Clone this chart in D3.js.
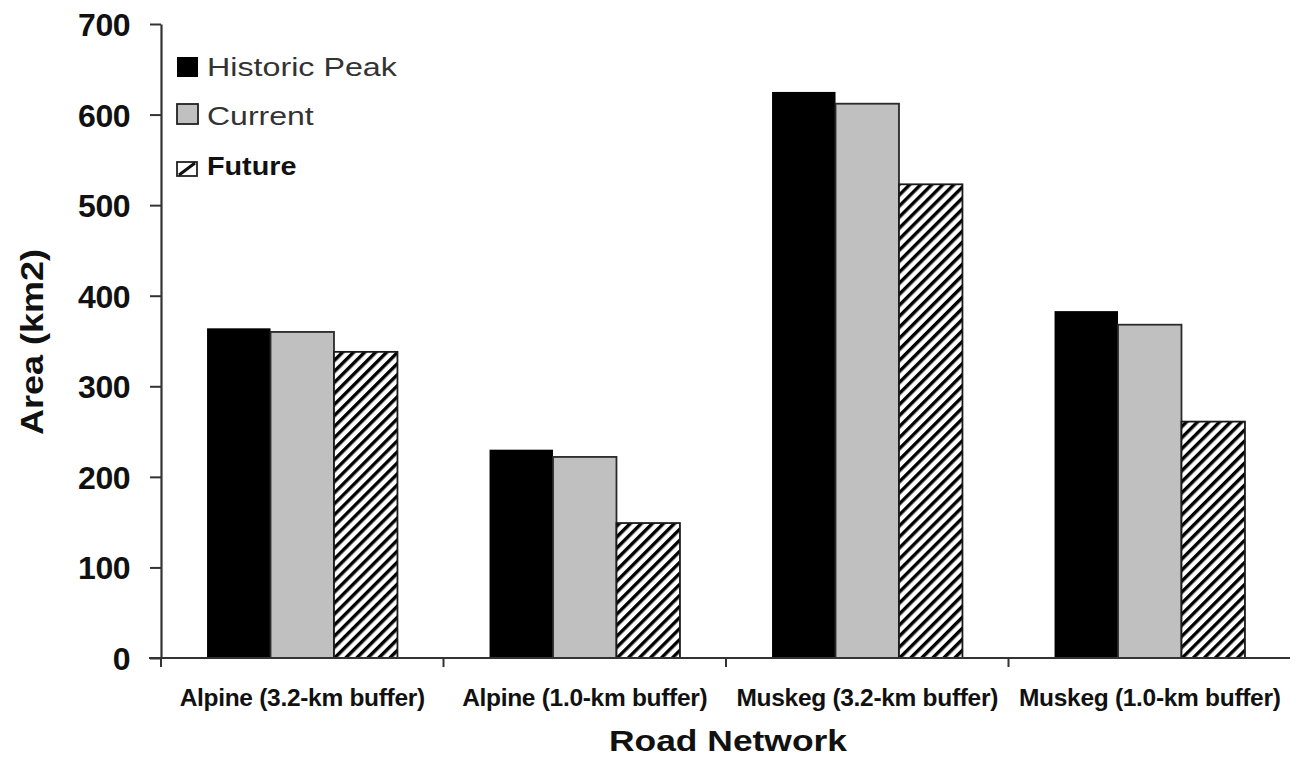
<!DOCTYPE html>
<html>
<head>
<meta charset="utf-8">
<script src="https://cdn.jsdelivr.net/npm/d3@7"></script>
<style>
  html, body { margin: 0; padding: 0; background: #fff; }
  svg { display: block; font-family: "Liberation Sans", Arial, sans-serif; }
</style>
</head>
<body>
<svg id="chart" width="1296" height="757"></svg>
<script>
// ---- data ----
const categories = ["Alpine (3.2-km buffer)", "Alpine (1.0-km buffer)", "Muskeg (3.2-km buffer)", "Muskeg (1.0-km buffer)"];
const seriesNames = ["Historic Peak", "Current", "Future"];
const historicPeak = [364, 230, 625, 383];
const current = [360, 222, 612, 368];
const future = [338, 149, 523, 261];
const yTicks = [0, 100, 200, 300, 400, 500, 600, 700];
const xTitle = "Road Network";
const yTitle = "Area (km2)";

const seriesValues = [historicPeak, current, future];

(function draw() {
const svg = d3.select("#chart");
const defs = svg.append("defs");
defs.append("pattern")
  .attr("id", "hatch")
  .attr("patternUnits", "userSpaceOnUse")
  .attr("width", 7.8).attr("height", 10)
  .attr("patternTransform", "rotate(45)")
  .call(p => {
    p.append("rect").attr("width", 7.8).attr("height", 10).attr("fill", "#fff");
    p.append("rect").attr("width", 3.4).attr("height", 10).attr("fill", "#000");
  });

const fills = ["#000000", "#c0c0c0", "url(#hatch)"];
const strokes = ["#000000", "#2a2a2a", "#1a1a1a"];

const pLeft = 161, pRight = 1291, pTop = 24, pBottom = 658;

const x0 = d3.scaleBand().domain(categories).range([pLeft, pRight])
  .paddingInner(0.326).paddingOuter(0.163);
const x1 = d3.scaleBand().domain(seriesNames).range([0, x0.bandwidth()]).padding(0);
const y = d3.scaleLinear().domain([0, 700]).range([pBottom, pTop]);

// bars
const groups = svg.append("g").selectAll("g")
  .data(categories).join("g")
  .attr("transform", d => `translate(${x0(d)},0)`);

groups.selectAll("rect")
  .data((c, ci) => seriesNames.map((s, si) => ({ s, si, v: seriesValues[si][ci] })))
  .join("rect")
  .attr("x", d => x1(d.s))
  .attr("width", x1.bandwidth())
  .attr("y", d => y(d.v))
  .attr("height", d => y(0) - y(d.v))
  .attr("fill", d => fills[d.si])
  .attr("stroke", d => strokes[d.si])
  .attr("stroke-width", d => d.si === 0 ? 0 : 1.8);

// y axis
const yAxis = svg.append("g")
  .attr("transform", `translate(${pLeft},0)`)
  .call(d3.axisLeft(y).tickValues(yTicks).tickFormat(d3.format("d")).tickSize(11).tickSizeOuter(0).tickPadding(20));
yAxis.select(".domain").attr("stroke", "#333").attr("stroke-width", 2.2);
yAxis.selectAll(".tick line").attr("stroke", "#333").attr("stroke-width", 2);
yAxis.selectAll(".tick text")
  .attr("font-size", 32).attr("font-weight", "bold").attr("fill", "#111")
  .attr("font-family", "Liberation Sans, Arial, sans-serif")
  .attr("letter-spacing", -0.5)
  .attr("dy", "0.36em");

// x axis line + category boundary ticks
const step = x0.step();
const xAxis = svg.append("g");
xAxis.append("line")
  .attr("x1", pLeft - 12).attr("x2", pRight - 1)
  .attr("y1", pBottom).attr("y2", pBottom)
  .attr("stroke", "#333").attr("stroke-width", 2.2);
xAxis.selectAll("line.bt")
  .data(d3.range(categories.length))
  .join("line").attr("class", "bt")
  .attr("x1", i => pLeft + i * step).attr("x2", i => pLeft + i * step)
  .attr("y1", pBottom).attr("y2", pBottom + 9)
  .attr("stroke", "#333").attr("stroke-width", 2);

// stretch helper (the picture's text is horizontally scaled)
function stretch(sel, factor) {
  sel.each(function () {
    const w = this.getComputedTextLength();
    d3.select(this).attr("textLength", w * factor).attr("lengthAdjust", "spacingAndGlyphs");
  });
}

// x category labels
svg.append("g").selectAll("text")
  .data(categories).join("text")
  .attr("x", d => x0(d) + x0.bandwidth() / 2)
  .attr("y", 706)
  .attr("text-anchor", "middle")
  .attr("font-size", 24.5).attr("font-weight", "bold").attr("fill", "#111")
  .attr("letter-spacing", -0.3)
  .text(d => d);

// x title
svg.append("text")
  .attr("x", (pLeft + pRight) / 2 + 2).attr("y", 751)
  .attr("text-anchor", "middle")
  .attr("font-size", 30).attr("font-weight", "bold").attr("fill", "#111")
  .text(xTitle)
  .call(stretch, 1.18);

// y title
svg.append("text")
  .attr("transform", "translate(43,342) rotate(-90)")
  .attr("text-anchor", "middle")
  .attr("font-size", 31).attr("font-weight", "bold").attr("fill", "#111")
  .text(yTitle)
  .call(stretch, 1.16);

// legend
const legendRows = [
  { name: seriesNames[0], si: 0, baseline: 76, sw: { y: 57, h: 20, w: 21 }, bold: false, size: 26, f: 1.24 },
  { name: seriesNames[1], si: 1, baseline: 125, sw: { y: 104, h: 20, w: 21 }, bold: false, size: 26, f: 1.23 },
  { name: seriesNames[2], si: 2, baseline: 175, sw: { y: 162, h: 14, w: 20 }, bold: true, size: 25, f: 1.15 }
];
const lg = svg.append("g").selectAll("g").data(legendRows).join("g");
lg.append("rect")
  .attr("x", 177).attr("y", d => d.sw.y)
  .attr("width", d => d.sw.w).attr("height", d => d.sw.h)
  .attr("fill", d => d.si === 2 ? "#fff" : fills[d.si])
  .attr("stroke", d => d.si === 0 ? "none" : "#222")
  .attr("stroke-width", 1.8);
lg.filter(d => d.si === 2).append("line")
  .attr("x1", 179).attr("y1", d => d.sw.y + d.sw.h - 1)
  .attr("x2", 195).attr("y2", d => d.sw.y + 1)
  .attr("stroke", "#111").attr("stroke-width", 3);
lg.append("text")
  .attr("x", 207).attr("y", d => d.baseline)
  .attr("font-size", d => d.size)
  .attr("font-weight", d => d.bold ? "bold" : "normal")
  .attr("fill", d => d.bold ? "#111" : "#333")
  .text(d => d.name)
  .each(function (d) { stretch(d3.select(this), d.f); });
})();
</script>
</body>
</html>
